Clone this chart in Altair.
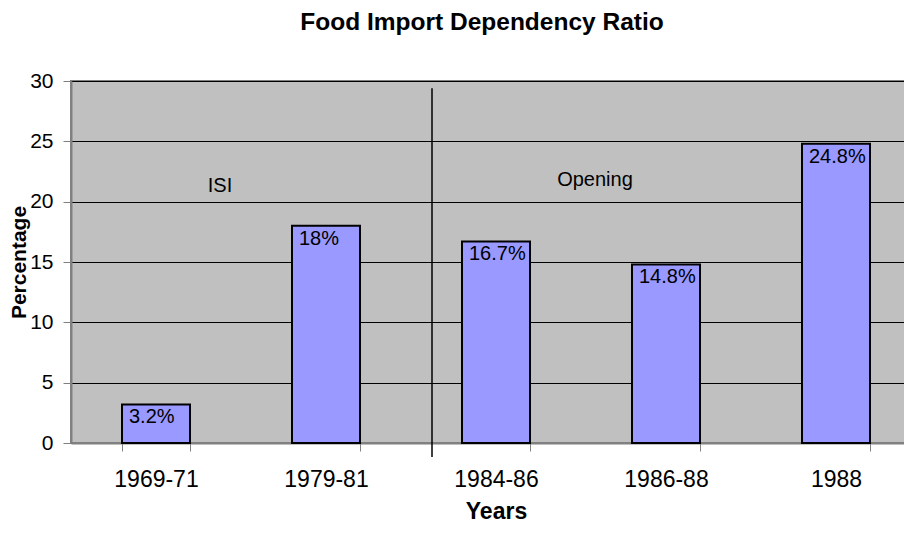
import altair as alt
import pandas as pd

# ---- data ----
periods = ["1969-71", "1979-81", "1984-86", "1986-88", "1988"]
ratios = [3.2, 18, 16.7, 14.8, 24.8]
labels = ["3.2%", "18%", "16.7%", "14.8%", "24.8%"]

era_names = ["ISI", "Opening"]
era_periods = ["1969-71", "1986-88"]
era_levels = [21.3, 21.8]

divider_period = ["1984-86"]
divider_top = [29.4]
divider_bottom = [-1.15]

FONT = "Liberation Sans"

bars_df = pd.DataFrame({"Period": periods, "Ratio": ratios, "Label": labels})
isi_df = pd.DataFrame({"Period": [era_periods[0]], "Level": [era_levels[0]], "Name": [era_names[0]]})
open_df = pd.DataFrame({"Period": [era_periods[1]], "Level": [era_levels[1]], "Name": [era_names[1]]})
div_df = pd.DataFrame({"Period": divider_period, "Top": divider_top, "Bottom": divider_bottom})

x_scale = alt.Scale(domain=periods, paddingInner=0.6, paddingOuter=0.3)
y_scale = alt.Scale(domain=[0, 30], nice=False)

x_enc = alt.X(
    "Period:N",
    scale=x_scale,
    sort=periods,
    axis=alt.Axis(
        title="Years",
        labelAngle=0,
        labelFontSize=23,
        labelFont=FONT,
        labelColor="black",
        labelPadding=17,
        tickBand="extent",
        tickSize=8,
        tickColor="#808080",
        tickWidth=1,
        domainColor="#808080",
        domainWidth=2,
        grid=False,
        titleFontSize=23,
        titleFont=FONT,
        titleFontWeight="bold",
        titleColor="black",
        titlePadding=9,
    ),
)

y_enc = alt.Y(
    "Ratio:Q",
    scale=y_scale,
    axis=alt.Axis(
        title="Percentage",
        values=[0, 5, 10, 15, 20, 25, 30],
        labelFontSize=21,
        labelFont=FONT,
        labelColor="black",
        labelPadding=10,
        tickSize=8,
        tickColor="#808080",
        domainColor="#808080",
        domainWidth=2,
        grid=True,
        gridColor="black",
        gridWidth=1,
        titleFontSize=21,
        titleFont=FONT,
        titleFontWeight="bold",
        titleColor="black",
        titlePadding=0,
    ),
)

bars = alt.Chart(bars_df).mark_bar(
    color="#9999FF", stroke="black", strokeWidth=2
).encode(x=x_enc, y=y_enc)

bar_labels = alt.Chart(bars_df).mark_text(
    align="left", baseline="top", dx=7, dy=3, fontSize=20, font=FONT, color="black"
).encode(
    x=alt.X("Period:N", scale=x_scale, sort=periods, bandPosition=0),
    y=alt.Y("Ratio:Q", scale=y_scale),
    text="Label:N",
)

isi_text = alt.Chart(isi_df).mark_text(
    align="center", baseline="middle", dx=64, fontSize=20, font=FONT, color="black"
).encode(
    x=alt.X("Period:N", scale=x_scale, sort=periods),
    y=alt.Y("Level:Q", scale=y_scale),
    text="Name:N",
)

open_text = alt.Chart(open_df).mark_text(
    align="center", baseline="middle", dx=-71, fontSize=20, font=FONT, color="black"
).encode(
    x=alt.X("Period:N", scale=x_scale, sort=periods),
    y=alt.Y("Level:Q", scale=y_scale),
    text="Name:N",
)

divider = alt.Chart(div_df).mark_rule(
    color="black", strokeWidth=1.5, xOffset=-30
).encode(
    x=alt.X("Period:N", scale=x_scale, sort=periods, bandPosition=0),
    y=alt.Y("Top:Q", scale=y_scale),
    y2="Bottom:Q",
)

chart = alt.layer(bars, bar_labels, isi_text, open_text, divider).properties(
    width=850,
    height=362,
    autosize=alt.AutoSizeParams(type="none"),
    padding={"left": 63, "top": 73, "right": -17, "bottom": 82},
    background="white",
    title=alt.TitleParams(
        "Food Import Dependency Ratio",
        fontSize=24.5,
        font=FONT,
        fontWeight="bold",
        color="black",
        anchor="middle",
        dx=-14,
        offset=16,
        baseline="alphabetic",
    ),
).configure_view(
    fill="#C0C0C0", stroke="#808080", strokeWidth=2
)

chart.save("out.html", embed_options={"renderer": "svg", "actions": False})
